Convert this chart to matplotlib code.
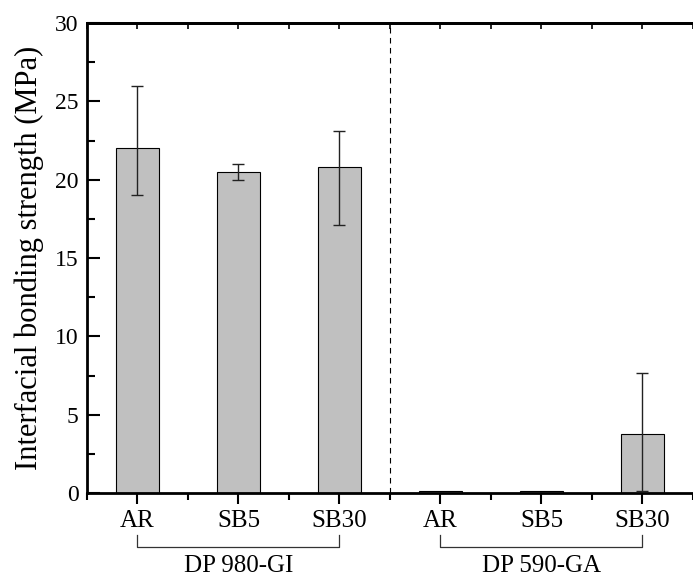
import matplotlib
matplotlib.use('Agg')
import matplotlib.pyplot as plt
import matplotlib.transforms as mtransforms
from matplotlib.ticker import MultipleLocator
import numpy as np

# data
labels = ['AR', 'SB5', 'SB30', 'AR', 'SB5', 'SB30']
groups = ['DP 980-GI', 'DP 590-GA']
strength = [22.0, 20.5, 20.8, 0.15, 0.15, 3.75]
err_low = [3.0, 0.5, 3.7, 0.0, 0.0, 3.6]
err_high = [4.0, 0.5, 2.3, 0.0, 0.0, 3.9]

plt.rcParams['font.family'] = ['Liberation Serif', 'DejaVu Serif']

fig = plt.figure(figsize=(6.93, 5.77), dpi=100)
ax = fig.add_axes([0.1255, 0.1456, 0.8745, 0.8144])

x = np.arange(1, len(strength) + 1)
has_err = [i for i in range(len(x)) if err_low[i] > 0 or err_high[i] > 0]
ax.bar(x, strength, width=0.42, color='#c0c0c0', edgecolor='black', linewidth=0.8, zorder=2)
ax.errorbar(x[has_err], np.array(strength)[has_err],
            yerr=[np.array(err_low)[has_err], np.array(err_high)[has_err]],
            fmt='none', ecolor='#222222', elinewidth=1.0, capsize=4.5, capthick=1.0, zorder=3)

ax.axvline(3.5, color='black', linestyle=(0, (5, 4)), linewidth=0.8, zorder=1)

ax.set_xlim(0.5, 6.5)
ax.set_ylim(0, 30)
ax.set_xticks(x)
ax.set_xticklabels(labels, fontsize=18)
ax.xaxis.set_minor_locator(MultipleLocator(0.5))
ax.yaxis.set_major_locator(MultipleLocator(5))
ax.yaxis.set_minor_locator(MultipleLocator(2.5))
ax.tick_params(axis='y', labelsize=17, pad=6)
ax.tick_params(axis='y', which='major', direction='in', length=9, width=1.5)
ax.tick_params(axis='y', which='minor', direction='in', length=6, width=1.5)
ax.tick_params(axis='x', which='major', direction='out', length=8, width=1.5, pad=4)
ax.tick_params(axis='x', which='minor', direction='out', length=5, width=1.5)
ax.spines['right'].set_visible(False)
for s in ['left', 'bottom', 'top']:
    ax.spines[s].set_linewidth(2)

# small inward ticks along the top spine
top = ax.secondary_xaxis('top')
top.set_xticks(x)
top.set_xticklabels([])
top.xaxis.set_minor_locator(MultipleLocator(0.5))
top.tick_params(which='both', direction='in', length=4, width=1.2)
top.spines['top'].set_linewidth(2)

ax.set_ylabel('Interfacial bonding strength (MPa)', fontsize=22, labelpad=8)

# group brackets
trans = mtransforms.blended_transform_factory(ax.transData, ax.transAxes)
for g, name in enumerate(groups):
    x0, x1 = x[3 * g], x[3 * g + 2]
    ax.plot([x0, x0, x1, x1], [-0.089, -0.115, -0.115, -0.089], color='#333333',
            linewidth=0.9, transform=trans, clip_on=False)
    ax.text((x0 + x1) / 2, -0.155, name, transform=trans, ha='center', va='center', fontsize=18)

fig.savefig('out.png', dpi=100)
